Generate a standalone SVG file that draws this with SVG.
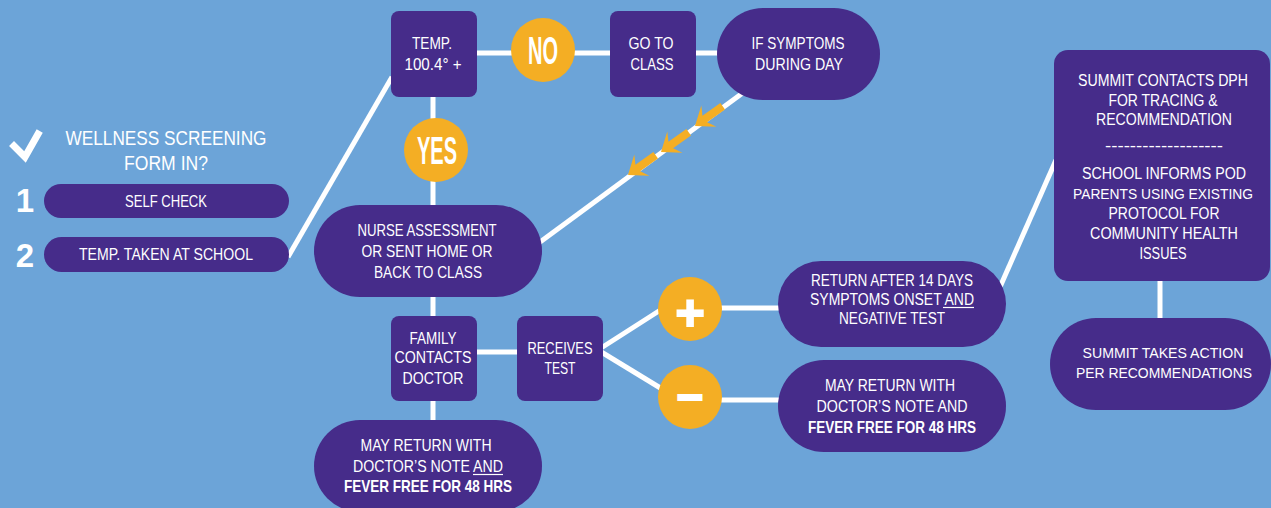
<svg xmlns="http://www.w3.org/2000/svg" width="1271" height="508" viewBox="0 0 1271 508">
<style>
.bg{fill:#6CA4D8}
.n{fill:#462C8A}
.o{fill:#F4AE24}
.ln{stroke:#fff;stroke-width:5;fill:none}
.ul{stroke:#fff;stroke-width:1.2}
text{font-family:"Liberation Sans",Arial,sans-serif;fill:#fff;text-anchor:middle}
.t{font-size:17px}
.s{font-size:16px}
.m{font-size:16px}
.k{font-size:15px}
.h{font-size:21px}
.b{font-weight:bold}
.yn{font-size:38px;font-weight:bold}
.num{font-size:33px;font-weight:bold}
</style>
<defs>
<polygon id="arr" points="0,0 -17,-13 -12,-4 -34,-4 -34,4 -12,4 -17,13" fill="#F4AE24"/>
</defs>
<rect class="bg" x="0" y="0" width="1271" height="508"/>
<g id="connectors">
<line class="ln" x1="288" y1="257" x2="392" y2="77"/>
<line class="ln" x1="470" y1="53" x2="615" y2="53"/>
<line class="ln" x1="690" y1="53" x2="725" y2="53"/>
<line class="ln" x1="433" y1="90" x2="433" y2="212"/>
<line class="ln" x1="744" y1="92" x2="536" y2="245"/>
<line class="ln" x1="433" y1="290" x2="433" y2="322"/>
<line class="ln" x1="433" y1="395" x2="433" y2="426"/>
<line class="ln" x1="470" y1="352" x2="523" y2="352"/>
<line class="ln" x1="598" y1="350" x2="662" y2="309"/>
<line class="ln" x1="598" y1="350" x2="662" y2="389"/>
<line class="ln" x1="715" y1="308" x2="785" y2="308"/>
<line class="ln" x1="715" y1="400" x2="785" y2="400"/>
<line class="ln" x1="1000" y1="287" x2="1056" y2="160"/>
<line class="ln" x1="1160" y1="275" x2="1160" y2="324"/>
<use href="#arr" transform="translate(695,126) rotate(144.5)"/>
<use href="#arr" transform="translate(661,152) rotate(144.5)"/>
<use href="#arr" transform="translate(628,175) rotate(144.5)"/>
</g>
<g id="check">
<polyline points="14,146 25,157 38,134" fill="none" stroke="#fff" stroke-width="7" stroke-linecap="square"/>
<text class="h" x="166" y="145" textLength="201" lengthAdjust="spacingAndGlyphs">WELLNESS SCREENING</text>
<text class="h" x="166" y="170" textLength="84" lengthAdjust="spacingAndGlyphs">FORM IN?</text>
</g>
<g id="n1">
<text class="num" x="25" y="212">1</text>
<rect class="n" x="44" y="184" width="245" height="34" rx="17"/>
<text class="t" x="166" y="207" textLength="82" lengthAdjust="spacingAndGlyphs">SELF CHECK</text>
</g>
<g id="n2">
<text class="num" x="25" y="267">2</text>
<rect class="n" x="44" y="237" width="245" height="35" rx="17.5"/>
<text class="t" x="166" y="260" textLength="174" lengthAdjust="spacingAndGlyphs">TEMP. TAKEN AT SCHOOL</text>
</g>
<g id="temp">
<rect class="n" x="391" y="11" width="86" height="86" rx="8"/>
<text class="t" x="432" y="49" textLength="40" lengthAdjust="spacingAndGlyphs">TEMP.</text>
<text class="t" x="433" y="70" textLength="57" lengthAdjust="spacingAndGlyphs">100.4° +</text>
</g>
<g id="no">
<circle class="o" cx="543" cy="50" r="32"/>
<text class="yn" x="543" y="64" textLength="30" lengthAdjust="spacingAndGlyphs">NO</text>
</g>
<g id="yes">
<circle class="o" cx="436" cy="150" r="32"/>
<text class="yn" x="437" y="164" textLength="40" lengthAdjust="spacingAndGlyphs">YES</text>
</g>
<g id="goto">
<rect class="n" x="610" y="11" width="86" height="86" rx="8"/>
<text class="t" x="651" y="49" textLength="45" lengthAdjust="spacingAndGlyphs">GO TO</text>
<text class="t" x="652" y="70" textLength="43" lengthAdjust="spacingAndGlyphs">CLASS</text>
</g>
<g id="symptoms">
<rect class="n" x="717" y="8" width="163" height="92" rx="46"/>
<text class="t" x="798" y="49" textLength="93" lengthAdjust="spacingAndGlyphs">IF SYMPTOMS</text>
<text class="t" x="799" y="70" textLength="88" lengthAdjust="spacingAndGlyphs">DURING DAY</text>
</g>
<g id="nurse">
<rect class="n" x="314" y="205" width="228" height="92" rx="46"/>
<text class="t" x="427" y="236" textLength="139" lengthAdjust="spacingAndGlyphs">NURSE ASSESSMENT</text>
<text class="t" x="427" y="257" textLength="131" lengthAdjust="spacingAndGlyphs">OR SENT HOME OR</text>
<text class="t" x="428" y="278" textLength="108" lengthAdjust="spacingAndGlyphs">BACK TO CLASS</text>
</g>
<g id="family">
<rect class="n" x="391" y="316" width="86" height="85" rx="8"/>
<text class="t" x="433" y="344" textLength="47" lengthAdjust="spacingAndGlyphs">FAMILY</text>
<text class="t" x="433" y="363" textLength="77" lengthAdjust="spacingAndGlyphs">CONTACTS</text>
<text class="t" x="433" y="384" textLength="61" lengthAdjust="spacingAndGlyphs">DOCTOR</text>
</g>
<g id="receives">
<rect class="n" x="517" y="316" width="86" height="85" rx="8"/>
<text class="t" x="560" y="354" textLength="65" lengthAdjust="spacingAndGlyphs">RECEIVES</text>
<text class="t" x="560" y="374" textLength="31" lengthAdjust="spacingAndGlyphs">TEST</text>
</g>
<g id="mayreturn1">
<rect class="n" x="314" y="420" width="228" height="92" rx="46"/>
<text class="t" x="426" y="451" textLength="131" lengthAdjust="spacingAndGlyphs">MAY RETURN WITH</text>
<text class="t" x="428" y="472" textLength="150" lengthAdjust="spacingAndGlyphs">DOCTOR’S NOTE AND</text>
<line class="ul" x1="473" y1="474.5" x2="503" y2="474.5"/>
<text class="t b" x="428" y="492" textLength="168" lengthAdjust="spacingAndGlyphs">FEVER FREE FOR 48 HRS</text>
</g>
<g id="plus">
<circle class="o" cx="690" cy="309" r="32"/>
<text x="690" y="330" font-size="50" font-weight="bold" stroke="#fff" stroke-width="2">+</text>
</g>
<g id="minus">
<circle class="o" cx="690" cy="397" r="32"/>
<text x="690" y="413" font-size="46" font-weight="bold" stroke="#fff" stroke-width="2">−</text>
</g>
<g id="return14">
<rect class="n" x="778" y="261" width="228" height="86" rx="43"/>
<text class="s" x="892" y="286" textLength="162" lengthAdjust="spacingAndGlyphs">RETURN AFTER 14 DAYS</text>
<text class="s" x="892" y="305" textLength="164" lengthAdjust="spacingAndGlyphs">SYMPTOMS ONSET AND</text>
<line class="ul" x1="943" y1="307.5" x2="974" y2="307.5"/>
<text class="s" x="892" y="324" textLength="106" lengthAdjust="spacingAndGlyphs">NEGATIVE TEST</text>
</g>
<g id="mayreturn2">
<rect class="n" x="778" y="360" width="228" height="92" rx="46"/>
<text class="s" x="890" y="391" textLength="130" lengthAdjust="spacingAndGlyphs">MAY RETURN WITH</text>
<text class="s" x="892" y="412" textLength="151" lengthAdjust="spacingAndGlyphs">DOCTOR’S NOTE AND</text>
<text class="s b" x="892" y="433" textLength="168" lengthAdjust="spacingAndGlyphs">FEVER FREE FOR 48 HRS</text>
</g>
<g id="summit">
<rect class="n" x="1054" y="50" width="216" height="231" rx="14"/>
<text class="m" x="1163" y="86" textLength="170" lengthAdjust="spacingAndGlyphs">SUMMIT CONTACTS DPH</text>
<text class="m" x="1163" y="106" textLength="109" lengthAdjust="spacingAndGlyphs">FOR TRACING &amp;</text>
<text class="m" x="1164" y="125" textLength="136" lengthAdjust="spacingAndGlyphs">RECOMMENDATION</text>
<text class="m" x="1164" y="151" textLength="118" lengthAdjust="spacingAndGlyphs">-------------------</text>
<text class="m" x="1164" y="179" textLength="164" lengthAdjust="spacingAndGlyphs">SCHOOL INFORMS POD</text>
<text class="k" x="1163" y="199" textLength="180" lengthAdjust="spacingAndGlyphs">PARENTS USING EXISTING</text>
<text class="m" x="1164" y="219" textLength="111" lengthAdjust="spacingAndGlyphs">PROTOCOL FOR</text>
<text class="m" x="1164" y="239" textLength="148" lengthAdjust="spacingAndGlyphs">COMMUNITY HEALTH</text>
<text class="m" x="1163" y="259" textLength="47" lengthAdjust="spacingAndGlyphs">ISSUES</text>
</g>
<g id="action">
<rect class="n" x="1050" y="318" width="221" height="92" rx="46"/>
<text class="k" x="1163" y="358" textLength="161" lengthAdjust="spacingAndGlyphs">SUMMIT TAKES ACTION</text>
<text class="k" x="1164" y="378" textLength="176" lengthAdjust="spacingAndGlyphs">PER RECOMMENDATIONS</text>
</g>
</svg>
